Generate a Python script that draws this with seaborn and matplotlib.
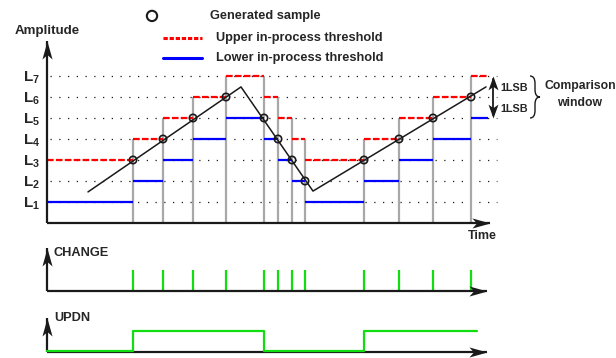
import numpy as np
import pandas as pd
import matplotlib
matplotlib.use("Agg")
import matplotlib.pyplot as plt
import seaborn as sns
from matplotlib.path import Path
from matplotlib.patches import PathPatch

# ---------------- data ----------------
levels = [1, 2, 3, 4, 5, 6, 7]
level_names = ["1", "2", "3", "4", "5", "6", "7"]
sample_time = [86, 116, 146, 179, 217, 231, 245, 258, 317, 352, 386, 424]
sample_level = [3, 4, 5, 6, 5, 4, 3, 2, 3, 4, 5, 6]
initial_level = 2
threshold_end = 441
signal_time = [41, 194, 266, 439]
signal_amp = [1.48, 6.48, 1.52, 6.48]
updn_state = [1, 1, 1, 1, 0, 0, 0, 0, 1, 1, 1, 1]
updn_end = 430

# ---------------- style ----------------
sns.set_theme(style="white")
plt.rcParams["font.family"] = ["Liberation Sans", "DejaVu Sans"]
plt.rcParams["font.weight"] = "bold"
plt.rcParams["mathtext.fontset"] = "custom"
plt.rcParams["mathtext.bf"] = "Liberation Sans:bold"
plt.rcParams["mathtext.rm"] = "Liberation Sans:bold"

RED = "#ff0000"
BLUE = "#0000ff"
GRAY = "#a8a8a8"
GREEN = "#11dd11"

W, H = 616, 358
fig = plt.figure(figsize=(W / 100, H / 100), dpi=100)


def px_axes(left, top, right, bottom):
    ax = fig.add_axes([left / W, 1 - bottom / H, (right - left) / W, (bottom - top) / H])
    ax.set_facecolor("none")
    for s in ax.spines.values():
        s.set_visible(False)
    ax.set_xticks([])
    ax.set_yticks([])
    return ax


def stealth(direction, hw=0.28):
    # tip at origin, concave back ("stealth" arrow head)
    base = [(0, 0), (-1, hw), (-0.75, 0), (-1, -hw), (0, 0)]
    rot = {"right": (1, 0), "up": (0, 1), "down": (0, -1)}[direction]
    c, s = rot
    verts = [(x * c - y * s, x * s + y * c) for x, y in base]
    return Path(verts, [Path.MOVETO, Path.LINETO, Path.LINETO, Path.LINETO, Path.CLOSEPOLY])


HEAD_R = stealth("right")
HEAD_U = stealth("up")


def axis_arrows(ax, xend, ytop):
    ax.plot([0, xend], [0, 0], color="k", lw=1.6, solid_capstyle="butt", clip_on=False, zorder=5)
    ax.plot([0, 0], [0, ytop], color="k", lw=1.6, solid_capstyle="butt", clip_on=False, zorder=5)
    ax.plot([xend], [0], marker=HEAD_R, ms=26, color="k", mew=0, clip_on=False, zorder=7)
    ax.plot([0], [ytop], marker=HEAD_U, ms=26, color="k", mew=0, clip_on=False, zorder=7)


# ---------------- main panel ----------------
main = px_axes(47, 43, 507, 223)
ytop = 180 / 21
main.set_xlim(0, 460)
main.set_ylim(0, ytop)

# dotted level lines
main.hlines(levels, 3, 450, colors="k", linestyles=(0, (1, 6)), lw=0.9, clip_on=False, zorder=1)

# threshold segments
seg_start = [0] + sample_time
seg_end = sample_time + [threshold_end]
seg_level = [initial_level] + sample_level
upper = [l + 1 for l in seg_level]
lower = [l - 1 for l in seg_level]

# gray verticals at sample instants
gray_top = [max(upper[i], upper[i + 1]) for i in range(len(sample_time))]
main.vlines(sample_time, 0, gray_top, colors=GRAY, lw=1.6, clip_on=False, zorder=2)

main.hlines(upper, seg_start, seg_end, colors=RED, linestyles=(0, (3, 1)), lw=1.6,
            clip_on=False, zorder=3)
main.hlines(lower, seg_start, seg_end, colors=BLUE, lw=1.6, clip_on=False, zorder=3)

# signal and samples
sig = pd.DataFrame({"t": signal_time, "a": signal_amp})
sns.lineplot(data=sig, x="t", y="a", ax=main, color="k", lw=1.1, sort=False,
             estimator=None, zorder=4)
smp = pd.DataFrame({"t": sample_time, "a": sample_level})
sns.scatterplot(data=smp, x="t", y="a", ax=main, marker="o", s=28,
                facecolor="none", edgecolor="k", linewidth=1.2, zorder=6)
main.set_xlabel("")
main.set_ylabel("")
main.set_xticks([])

main.set_yticks(levels)
main.set_yticklabels([r"$\mathbf{L_{%s}}$" % n for n in level_names], fontsize=11)
main.tick_params(axis="y", length=0, pad=5)

axis_arrows(main, 443, 182 / 21)

main.text(0, 9.14, "Amplitude", ha="center", va="center", fontsize=9.6, fontweight="bold")
main.text(435, -0.62, "Time", ha="center", va="center", fontsize=9, fontweight="bold")

# legend (manual)
main.scatter([105], [9.86], s=55, facecolor="none", edgecolor="k", linewidth=1.5, clip_on=False)
main.text(163, 9.86, "Generated sample", ha="left", va="center", fontsize=9.2, fontweight="bold")
main.plot([116, 155], [8.81, 8.81], color=RED, lw=2.2, ls=(0, (1.4, 0.6)), clip_on=False)
main.text(169, 8.81, "Upper in-process threshold", ha="left", va="center", fontsize=9.2,
          fontweight="bold")
main.plot([116, 155], [7.86, 7.86], color=BLUE, lw=2.2, clip_on=False)
main.text(169, 7.86, "Lower in-process threshold", ha="left", va="center", fontsize=9.2,
          fontweight="bold")

# comparison window annotation (double arrow)
main.plot([446, 446], [5.15, 6.85], color="k", lw=1.3, clip_on=False, zorder=5)
main.plot([446], [7.0], marker=stealth("up", 0.36), ms=20, color="k", mew=0, clip_on=False,
          zorder=6)
main.plot([446], [5.0], marker=stealth("down", 0.36), ms=20, color="k", mew=0, clip_on=False,
          zorder=6)
main.text(453, 6.45, "1LSB", ha="left", va="center", fontsize=7.8, fontweight="bold")
main.text(453, 5.45, "1LSB", ha="left", va="center", fontsize=7.8, fontweight="bold")

x0, w = 483, 10
yt, yb = 7.0, 5.0
ym = (yt + yb) / 2
r = 0.35
verts = [(x0, yt), (x0 + w / 2, yt), (x0 + w / 2, yt - r),
         (x0 + w / 2, ym + r),
         (x0 + w / 2, ym), (x0 + w, ym),
         (x0 + w / 2, ym), (x0 + w / 2, ym - r),
         (x0 + w / 2, yb + r),
         (x0 + w / 2, yb), (x0, yb)]
codes = [Path.MOVETO, Path.CURVE3, Path.CURVE3,
         Path.LINETO,
         Path.CURVE3, Path.CURVE3,
         Path.CURVE3, Path.CURVE3,
         Path.LINETO,
         Path.CURVE3, Path.CURVE3]
main.add_patch(PathPatch(Path(verts, codes), facecolor="none", edgecolor="k", lw=1.0,
                         clip_on=False))
main.text(533, 6.5, "Comparison", ha="center", va="center", fontsize=8.8, fontweight="bold")
main.text(533, 5.72, "window", ha="center", va="center", fontsize=8.8, fontweight="bold")

# ---------------- CHANGE panel ----------------
chg = px_axes(47, 248, 507, 291)
chg.set_xlim(0, 460)
chg.set_ylim(0, 43 / 21)
chg.vlines(sample_time, 0, 1, colors=GREEN, lw=1.6, zorder=3)
axis_arrows(chg, 440, 43 / 21)
chg.text(6, 1.81, "CHANGE", ha="left", va="center", fontsize=9.2, fontweight="bold")

# ---------------- UPDN panel ----------------
upd = px_axes(47, 318, 507, 352)
upd.set_xlim(0, 460)
upd.set_ylim(0, 34 / 20)
axis_arrows(upd, 440, 34 / 20)
st = [0] + sample_time + [updn_end]
sv = [0] + updn_state + [updn_state[-1]]
upd.step(st, [v + 0.04 for v in sv], where="post", color=GREEN, lw=1.6, zorder=6,
         clip_on=False)
upd.text(7, 1.7, "UPDN", ha="left", va="center", fontsize=9.2, fontweight="bold")

fig.savefig("out.png", dpi=100)
